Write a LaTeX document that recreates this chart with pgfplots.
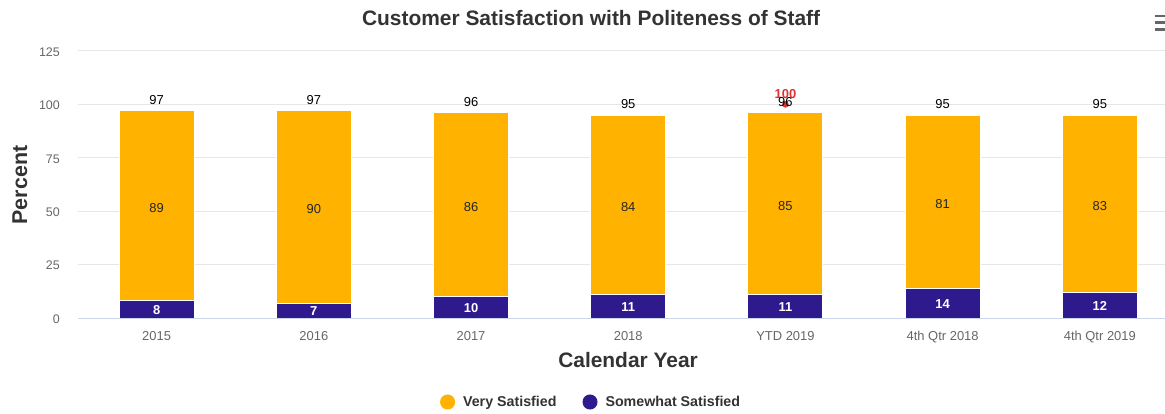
\documentclass[border=0pt]{standalone}
\usepackage{pgfplots}
\pgfplotsset{compat=1.18}
\usepackage{pgfplotstable}
\usepackage{fontspec}
\setmainfont{Liberation Sans}
\definecolor{vs}{RGB}{255,178,0}
\definecolor{ss}{RGB}{46,26,140}
\definecolor{titlec}{RGB}{51,51,51}
\definecolor{tickc}{RGB}{102,102,102}
\definecolor{gridc}{RGB}{230,230,230}
\definecolor{axisc}{RGB}{204,214,235}
\definecolor{tred}{RGB}{220,50,50}
\pgfplotstableread{
x some very
0 8 89
1 7 90
2 10 86
3 11 84
4 11 85
5 14 81
6 12 83
}\sat
\begin{document}
\begin{tikzpicture}
\begin{axis}[
  at={(78bp,96bp)}, anchor=south west,
  scale only axis, width=1087bp, height=267bp,
  xmin=-0.5, xmax=6.415, ymin=0, ymax=125,
  ytick={0,25,50,75,100,125},
  xtick={0,...,6},
  xticklabels={2015,2016,2017,2018,YTD 2019,4th Qtr 2018,4th Qtr 2019},
  ymajorgrids, grid style={gridc, line width=1bp},
  axis x line*=bottom, axis y line*=left,
  x axis line style={axisc, line width=1bp},
  y axis line style={draw=none},
  major tick length=0pt,
  /pgf/number format/assume math mode=true,
  xticklabel style={font=\fontsize{13}{15}\selectfont, text=tickc, anchor=north, inner sep=0pt, yshift=-13bp},
  yticklabel style={font=\fontsize{12.5}{15}\selectfont, text=tickc, anchor=east, inner sep=0pt, xshift=-18bp, yshift=-1bp},
  title={Customer Satisfaction with Politeness of Staff},
  title style={at={(0.472,1.101)}, anchor=center, font=\bfseries\fontsize{21}{25}\selectfont, text=titlec},
  xlabel={Calendar Year},
  xlabel style={at={(0.506,-0.157)}, anchor=center, font=\bfseries\fontsize{21}{25}\selectfont, text=titlec},
  ylabel={Percent},
  ylabel style={at={(-0.0534,0.498)}, anchor=center, rotate=0, font=\bfseries\fontsize{21.5}{25}\selectfont, text=titlec},
  legend columns=2,
  legend style={at={(0.472,-0.3146)}, anchor=center, draw=none, fill=none,
    font=\bfseries\fontsize{14.3}{17}\selectfont, text=titlec,
    /tikz/every odd column/.append style={column sep=6bp},
    /tikz/every even column/.append style={column sep=24bp}},
  legend cell align=left,
]
\addplot[ybar, bar width=75bp, bar shift=0pt, fill=vs, draw=white, line width=1bp,
  legend image code/.code={\fill[vs] (4bp,0bp) circle (7bp);}]
  table[x=x, y expr=\thisrow{some}+\thisrow{very}] {\sat};
\addlegendentry{Very Satisfied}
\addplot[ybar, bar width=75bp, bar shift=0pt, fill=ss, draw=white, line width=1bp,
  legend image code/.code={\fill[ss] (4bp,0bp) circle (7bp);}]
  table[x=x, y=some] {\sat};
\addlegendentry{Somewhat Satisfied}
% target marker
\addplot[only marks, mark=*, mark size=3bp, color=tred, forget plot,
  nodes near coords={100}, point meta=explicit symbolic,
  every node near coord/.style={font=\bfseries\fontsize{13}{15}\selectfont, text=tred, anchor=south, inner sep=0pt, yshift=6bp}]
  coordinates {(4,100) [100]};
% segment labels: somewhat
\addplot[draw=none, mark=none, forget plot, nodes near coords, point meta=explicit,
  every node near coord/.style={font=\bfseries\fontsize{13}{15}\selectfont, text=white, anchor=center, inner sep=0pt, yshift=-1bp}]
  table[x=x, y expr=\thisrow{some}/2, meta=some] {\sat};
% segment labels: very
\addplot[draw=none, mark=none, forget plot, nodes near coords, point meta=explicit,
  every node near coord/.style={font=\fontsize{13}{15}\selectfont, text=black!85, anchor=center, inner sep=0pt, yshift=-2bp}]
  table[x=x, y expr=\thisrow{some}+\thisrow{very}/2, meta=very] {\sat};
% totals
\addplot[draw=none, mark=none, forget plot, nodes near coords, point meta=explicit,
  every node near coord/.style={font=\fontsize{13}{15}\selectfont, text=black, anchor=south, inner sep=0pt, yshift=6bp}]
  table[x=x, y expr=\thisrow{some}+\thisrow{very}, meta expr=\thisrow{some}+\thisrow{very}] {\sat};
\end{axis}
\draw[tickc, line width=2.5bp] (1155bp,398bp) -- (1165bp,398bp);
\draw[tickc, line width=2.5bp] (1155bp,391.3bp) -- (1165bp,391.3bp);
\draw[tickc, line width=2.5bp] (1155bp,384.7bp) -- (1165bp,384.7bp);
\pgfresetboundingbox
\path[use as bounding box] (0bp,0bp) rectangle (1165bp,414bp);
\end{tikzpicture}
\end{document}
